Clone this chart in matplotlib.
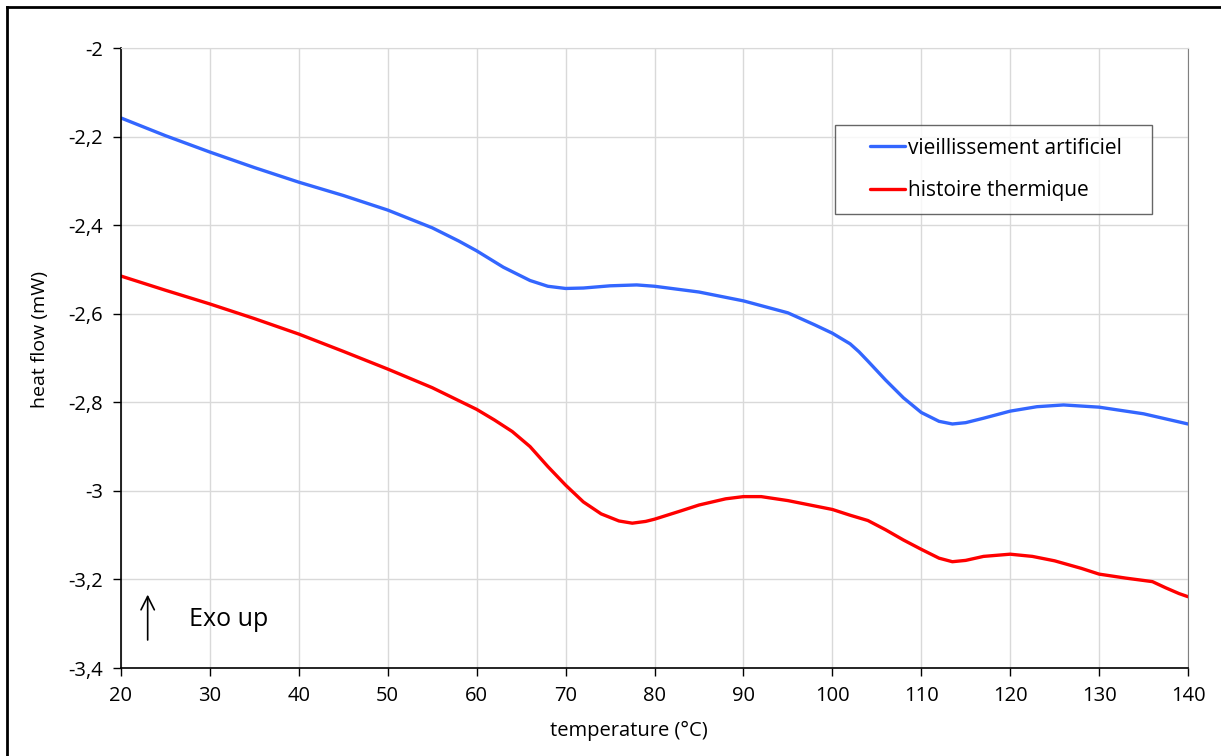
import matplotlib
matplotlib.use("Agg")
import numpy as np
import matplotlib.pyplot as plt
from matplotlib.lines import Line2D
from matplotlib.legend_handler import HandlerLine2D

plt.rcParams['font.family'] = ['Open Sans', 'DejaVu Sans']

# Data
temp_blue = [20, 25, 30, 35, 40, 45, 50, 55, 58, 60, 63, 66, 68, 70, 72, 75, 78, 80, 85, 90, 95, 98,
             100, 102, 103, 104, 106, 108, 110, 112, 113.5, 115, 117, 120, 123, 126, 130, 135, 140]
flow_blue = [-2.158, -2.198, -2.235, -2.270, -2.303, -2.333, -2.366, -2.406, -2.436, -2.458, -2.495,
             -2.525, -2.538, -2.543, -2.542, -2.537, -2.535, -2.538, -2.551, -2.571, -2.598, -2.625,
             -2.644, -2.668, -2.686, -2.707, -2.750, -2.790, -2.823, -2.843, -2.849, -2.846,
             -2.836, -2.820, -2.810, -2.806, -2.811, -2.826, -2.849]

temp_red = [20, 25, 30, 35, 40, 45, 50, 55, 60, 62, 64, 66, 68, 70, 72, 74, 76, 77.5, 79, 80, 83, 85,
            88, 90, 92, 95, 98, 100, 102, 104, 106, 108, 110, 112, 113.5, 115, 117, 120, 122.5,
            125, 128, 130, 133, 136, 137.5, 139, 140]
flow_red = [-2.515, -2.547, -2.578, -2.611, -2.646, -2.685, -2.725, -2.767, -2.816, -2.840, -2.866,
            -2.900, -2.945, -2.987, -3.025, -3.052, -3.068, -3.073, -3.069, -3.064, -3.045, -3.032,
            -3.018, -3.013, -3.013, -3.022, -3.034, -3.042, -3.055, -3.067, -3.088, -3.111, -3.132,
            -3.152, -3.160, -3.157, -3.148, -3.143, -3.148, -3.158, -3.175, -3.188, -3.197, -3.205,
            -3.219, -3.232, -3.239]

labels = ["vieillissement artificiel", "histoire thermique"]
x_ticks = [20, 30, 40, 50, 60, 70, 80, 90, 100, 110, 120, 130, 140]
y_ticks = [-2, -2.2, -2.4, -2.6, -2.8, -3, -3.2, -3.4]
y_ticklabels = ["-2", "-2,2", "-2,4", "-2,6", "-2,8", "-3", "-3,2", "-3,4"]


class ShortLineHandler(HandlerLine2D):
    def create_artists(self, legend, orig_handle, xdescent, ydescent, width, height, fontsize, trans):
        artists = super().create_artists(legend, orig_handle, xdescent, ydescent,
                                         width, height, fontsize, trans)
        for a in artists:
            xd = np.asarray(a.get_xdata(), dtype=float)
            if len(xd) >= 2:
                x0, x1 = xd[0], xd[-1]
                a.set_xdata(np.linspace(x0 + 0.4 * (x1 - x0), x1, len(xd)))
        return artists


W, H = 1221, 756
fig = plt.figure(figsize=(W / 100, H / 100), dpi=100)
ax = fig.add_axes([121 / W, 1 - 668 / H, (1188 - 121) / W, (668 - 48) / H])

l1, = ax.plot(temp_blue, flow_blue, color='#3366FF', lw=2.4, label=labels[0], solid_capstyle='round')
l2, = ax.plot(temp_red, flow_red, color='#FF0000', lw=2.4, label=labels[1], solid_capstyle='round')

ax.set_xlim(20, 140)
ax.set_ylim(-3.4, -2)
ax.set_xticks(x_ticks)
ax.set_xticklabels([str(t) for t in x_ticks])
ax.set_yticks(y_ticks)
ax.set_yticklabels(y_ticklabels)
ax.tick_params(direction='out', length=6, width=1, colors='black', labelsize=14.5, pad=7)
ax.grid(True, color='#d9d9d9', lw=1)
ax.set_axisbelow(True)
for s in ['left', 'bottom']:
    ax.spines[s].set_color('black')
    ax.spines[s].set_linewidth(1.2)
ax.spines['right'].set_color('#808080')
ax.spines['top'].set_color('#d9d9d9')

ax.set_xlabel("temperature (°C)", fontsize=14.5)
ax.xaxis.set_label_coords((629 - 121) / 1067, -(721 - 668) / 620)
ax.set_ylabel("heat flow (mW)", fontsize=14)
ax.yaxis.set_label_coords(-(121 - 49) / 1067, 1 - (340 - 48) / 620)

lx0 = (835 - 121) / 1067
lx1 = (1152 - 121) / 1067
ly1 = 1 - (125 - 48) / 620
ly0 = 1 - (213 - 48) / 620
leg = ax.legend(handles=[l1, l2], loc='upper left', mode='expand',
                bbox_to_anchor=(lx0, ly0, lx1 - lx0, ly1 - ly0),
                fontsize=15, frameon=True, fancybox=False, edgecolor='#404040',
                handlelength=2.75, handletextpad=0.15, labelspacing=1.05, borderpad=0.6,
                borderaxespad=0, handler_map={Line2D: ShortLineHandler()})
leg.get_frame().set_linewidth(1.0)
leg._legend_box.set_offset  # keep default placement

ax.annotate('', xy=(23, -3.228), xytext=(23, -3.343),
            arrowprops=dict(arrowstyle='->', color='black', lw=1.2, mutation_scale=24))
ax.text(27.7, -3.29, "Exo up", fontsize=18, va='center', ha='left')

fig.add_artist(Line2D([7.5 / W, 7.5 / W], [0, 1 - 6.5 / H], color='black', lw=2))
fig.add_artist(Line2D([7.5 / W, 1], [1 - 6.5 / H, 1 - 6.5 / H], color='black', lw=2))

fig.savefig("out.png", dpi=100)
